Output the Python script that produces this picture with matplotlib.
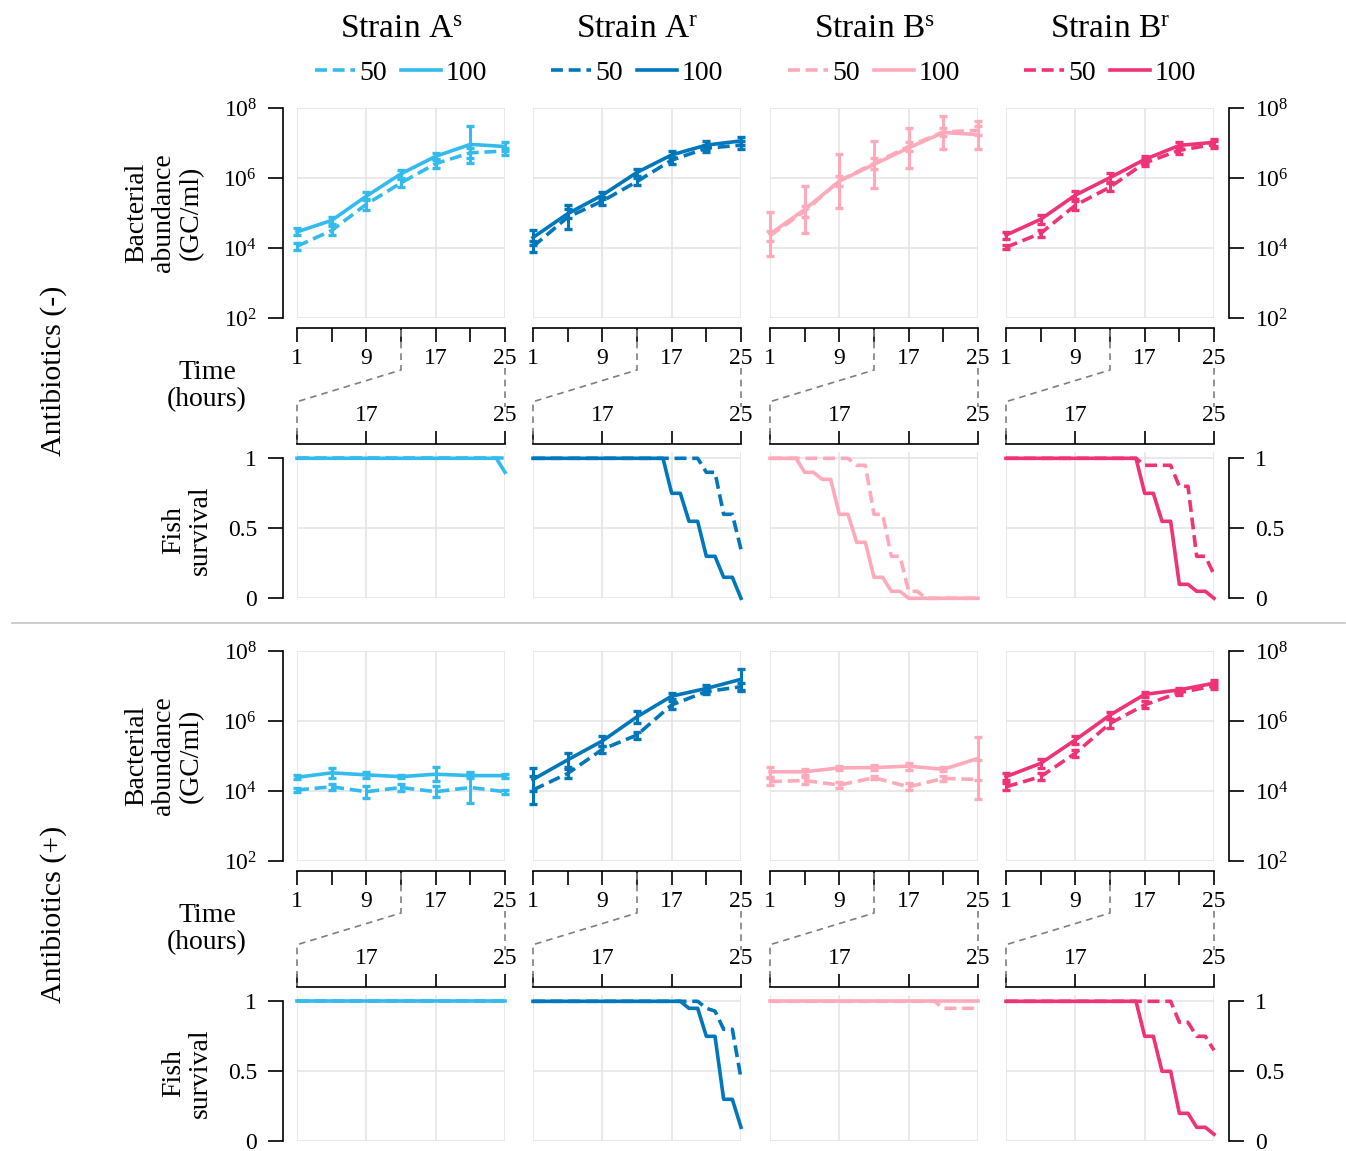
import numpy as np
import matplotlib
matplotlib.use("Agg")
import matplotlib.pyplot as plt
from matplotlib.ticker import FixedLocator, FixedFormatter, LogFormatterMathtext, NullLocator
from matplotlib.lines import Line2D

plt.rcParams.update({
    "font.family": "Liberation Serif",
    "mathtext.fontset": "custom",
    "mathtext.rm": "Liberation Serif",
    "mathtext.it": "Liberation Serif:italic",
    "mathtext.bf": "Liberation Serif:bold",
})

# ---------------- data ----------------
strains = ["A$^{\\mathrm{s}}$", "A$^{\\mathrm{r}}$", "B$^{\\mathrm{s}}$", "B$^{\\mathrm{r}}$"]
strain_colors = ["#33BBEE", "#0077BB", "#FFAABB", "#EE3377"]
doses = ["50", "100"]
rows = ["Antibiotics (-)", "Antibiotics (+)"]

hours = [1, 5, 9, 13, 17, 21, 25]
surv_hours = np.arange(13, 25.01, 0.5)

# log10 bacterial abundance (GC/ml), antibiotics (-)
As_neg_50 = [4.05, 4.50, 5.25, 5.86, 6.41, 6.72, 6.77]
As_neg_100 = [4.46, 4.79, 5.48, 6.12, 6.62, 6.96, 6.90]
Ar_neg_50 = [4.04, 4.88, 5.34, 5.90, 6.51, 6.85, 6.94]
Ar_neg_100 = [4.30, 4.98, 5.51, 6.16, 6.66, 6.94, 7.06]
Bs_neg_50 = [4.35, 5.05, 5.92, 6.42, 6.90, 7.32, 7.36]
Bs_neg_100 = [4.40, 5.10, 5.91, 6.39, 6.86, 7.30, 7.24]
Br_neg_50 = [4.02, 4.42, 5.22, 5.74, 6.43, 6.79, 6.96]
Br_neg_100 = [4.37, 4.82, 5.51, 6.01, 6.53, 6.93, 7.02]
# log10 bacterial abundance (GC/ml), antibiotics (+)
As_pos_50 = [4.03, 4.12, 3.98, 4.10, 3.98, 4.10, 3.98]
As_pos_100 = [4.39, 4.52, 4.46, 4.41, 4.48, 4.44, 4.44]
Ar_pos_50 = [4.03, 4.50, 5.19, 5.60, 6.46, 6.84, 6.98]
Ar_pos_100 = [4.33, 4.89, 5.43, 6.12, 6.71, 6.93, 7.19]
Bs_pos_50 = [4.27, 4.30, 4.17, 4.38, 4.12, 4.36, 4.33]
Bs_pos_100 = [4.55, 4.55, 4.66, 4.67, 4.71, 4.62, 4.93]
Br_pos_50 = [4.12, 4.41, 5.08, 5.93, 6.46, 6.81, 7.00]
Br_pos_100 = [4.41, 4.79, 5.46, 6.17, 6.76, 6.89, 7.08]

# error half-widths (log10 units)
As_neg_50_err = [0.10, 0.12, 0.15, 0.12, 0.12, 0.15, 0.10]
As_neg_100_err = [0.10, 0.10, 0.12, 0.12, 0.10, 0.54, 0.12]
Ar_neg_50_err = [0.15, 0.35, 0.12, 0.10, 0.10, 0.10, 0.12]
Ar_neg_100_err = [0.22, 0.12, 0.10, 0.10, 0.10, 0.12, 0.12]
Bs_neg_50_err = [0.15, 0.15, 0.15, 0.15, 0.12, 0.12, 0.12]
Bs_neg_100_err = [0.62, 0.68, 0.78, 0.68, 0.58, 0.48, 0.40]
Br_neg_50_err = [0.06, 0.10, 0.12, 0.12, 0.10, 0.10, 0.10]
Br_neg_100_err = [0.10, 0.12, 0.12, 0.12, 0.10, 0.10, 0.10]
As_pos_50_err = [0.06, 0.08, 0.17, 0.10, 0.15, 0.45, 0.06]
As_pos_100_err = [0.06, 0.15, 0.08, 0.05, 0.20, 0.08, 0.06]
Ar_pos_50_err = [0.40, 0.12, 0.10, 0.10, 0.12, 0.08, 0.12]
Ar_pos_100_err = [0.34, 0.20, 0.15, 0.18, 0.08, 0.10, 0.30]
Bs_pos_50_err = [0.10, 0.10, 0.08, 0.05, 0.10, 0.08, 0.57]
Bs_pos_100_err = [0.15, 0.08, 0.05, 0.08, 0.10, 0.06, 0.62]
Br_pos_50_err = [0.10, 0.10, 0.10, 0.12, 0.10, 0.08, 0.08]
Br_pos_100_err = [0.10, 0.12, 0.12, 0.10, 0.06, 0.06, 0.08]

# fish survival at hours 13, 13.5, ..., 25
As_neg_50_surv = [1, 1, 1, 1, 1, 1, 1, 1, 1, 1, 1, 1, 1, 1, 1, 1, 1, 1, 1, 1, 1, 1, 1, 1, 1]
As_neg_100_surv = [1, 1, 1, 1, 1, 1, 1, 1, 1, 1, 1, 1, 1, 1, 1, 1, 1, 1, 1, 1, 1, 1, 1, 1, 0.9]
Ar_neg_50_surv = [1, 1, 1, 1, 1, 1, 1, 1, 1, 1, 1, 1, 1, 1, 1, 1, 1, 1, 1, 1, 0.9, 0.9, 0.6, 0.6, 0.35]
Ar_neg_100_surv = [1, 1, 1, 1, 1, 1, 1, 1, 1, 1, 1, 1, 1, 1, 1, 1, 0.75, 0.75, 0.55, 0.55, 0.3, 0.3, 0.15, 0.15, 0]
Bs_neg_50_surv = [1, 1, 1, 1, 1, 1, 1, 1, 1, 1, 0.95, 0.95, 0.6, 0.6, 0.3, 0.3, 0.05, 0.05, 0, 0, 0, 0, 0, 0, 0]
Bs_neg_100_surv = [1, 1, 1, 1, 0.9, 0.9, 0.85, 0.85, 0.6, 0.6, 0.4, 0.4, 0.15, 0.15, 0.05, 0.05, 0, 0, 0, 0, 0, 0, 0, 0, 0]
Br_neg_50_surv = [1, 1, 1, 1, 1, 1, 1, 1, 1, 1, 1, 1, 1, 1, 1, 1, 0.95, 0.95, 0.95, 0.95, 0.8, 0.8, 0.3, 0.3, 0.17]
Br_neg_100_surv = [1, 1, 1, 1, 1, 1, 1, 1, 1, 1, 1, 1, 1, 1, 1, 1, 0.75, 0.75, 0.55, 0.55, 0.1, 0.1, 0.05, 0.05, 0]
As_pos_50_surv = [1, 1, 1, 1, 1, 1, 1, 1, 1, 1, 1, 1, 1, 1, 1, 1, 1, 1, 1, 1, 1, 1, 1, 1, 1]
As_pos_100_surv = [1, 1, 1, 1, 1, 1, 1, 1, 1, 1, 1, 1, 1, 1, 1, 1, 1, 1, 1, 1, 1, 1, 1, 1, 1]
Ar_pos_50_surv = [1, 1, 1, 1, 1, 1, 1, 1, 1, 1, 1, 1, 1, 1, 1, 1, 1, 1, 1, 1, 0.95, 0.93, 0.8, 0.8, 0.45]
Ar_pos_100_surv = [1, 1, 1, 1, 1, 1, 1, 1, 1, 1, 1, 1, 1, 1, 1, 1, 1, 1, 0.95, 0.95, 0.75, 0.75, 0.3, 0.3, 0.1]
Bs_pos_50_surv = [1, 1, 1, 1, 1, 1, 1, 1, 1, 1, 1, 1, 1, 1, 1, 1, 1, 1, 1, 1, 0.95, 0.95, 0.95, 0.95, 0.95]
Bs_pos_100_surv = [1, 1, 1, 1, 1, 1, 1, 1, 1, 1, 1, 1, 1, 1, 1, 1, 1, 1, 1, 1, 1, 1, 1, 1, 1]
Br_pos_50_surv = [1, 1, 1, 1, 1, 1, 1, 1, 1, 1, 1, 1, 1, 1, 1, 1, 1, 1, 1, 1, 0.85, 0.85, 0.75, 0.75, 0.65]
Br_pos_100_surv = [1, 1, 1, 1, 1, 1, 1, 1, 1, 1, 1, 1, 1, 1, 1, 1, 0.75, 0.75, 0.5, 0.5, 0.2, 0.2, 0.1, 0.1, 0.05]

abund = [
    [(As_neg_50, As_neg_100), (Ar_neg_50, Ar_neg_100), (Bs_neg_50, Bs_neg_100), (Br_neg_50, Br_neg_100)],
    [(As_pos_50, As_pos_100), (Ar_pos_50, Ar_pos_100), (Bs_pos_50, Bs_pos_100), (Br_pos_50, Br_pos_100)],
]
abund_err = [
    [(As_neg_50_err, As_neg_100_err), (Ar_neg_50_err, Ar_neg_100_err), (Bs_neg_50_err, Bs_neg_100_err), (Br_neg_50_err, Br_neg_100_err)],
    [(As_pos_50_err, As_pos_100_err), (Ar_pos_50_err, Ar_pos_100_err), (Bs_pos_50_err, Bs_pos_100_err), (Br_pos_50_err, Br_pos_100_err)],
]
surv = [
    [(As_neg_50_surv, As_neg_100_surv), (Ar_neg_50_surv, Ar_neg_100_surv), (Bs_neg_50_surv, Bs_neg_100_surv), (Br_neg_50_surv, Br_neg_100_surv)],
    [(As_pos_50_surv, As_pos_100_surv), (Ar_pos_50_surv, Ar_pos_100_surv), (Bs_pos_50_surv, Bs_pos_100_surv), (Br_pos_50_surv, Br_pos_100_surv)],
]

# ---------------- layout ----------------
W, H = 1346, 1151
fig = plt.figure(figsize=(W / 100, H / 100), dpi=100)

def rect(l, t, w, h):
    return [l / W, 1 - (t + h) / H, w / W, h / H]

def fp(x, y):
    return x / W, 1 - y / H

col_left = [297, 533, 770, 1006]
PW = 208
row_off = [0, 543]
AB_TOP, AB_H = 108, 210
SV_YMAX = 1.045
SV_TOP, SV_H = 598.3 - SV_YMAX * 140, SV_YMAX * 140
GRID = "#e5e5e5"
SP_LW = 1.2
LW = 2.6
TICK_FS = 17
styles = ["--", "-"]
DASH = (0, (3.3, 1.6))

def ls_of(d):
    return DASH if d == 0 else "-"

for r in range(2):
    off = row_off[r]
    for c in range(4):
        col = strain_colors[c]
        # ---- abundance panel ----
        ax = fig.add_axes(rect(col_left[c], AB_TOP + off, PW, AB_H))
        ax.set_yscale("log")
        ax.set_xlim(1, 25)
        ax.set_ylim(1e2, 1e8)
        ax.set_axisbelow(True)
        for d in range(2):
            m = np.array(abund[r][c][d])
            e = np.array(abund_err[r][c][d])
            y = 10 ** m
            yerr = [y - 10 ** (m - e), 10 ** (m + e) - y]
            cont = ax.errorbar(hours, y, yerr=yerr, color=col, ls=ls_of(d), lw=LW,
                               elinewidth=2.2, capsize=2.6, capthick=2.4, zorder=3 + d)
            for art in cont.get_children():
                art.set_clip_on(False)
        ax.xaxis.set_major_locator(FixedLocator([1, 9, 17, 25]))
        ax.xaxis.set_minor_locator(FixedLocator([5, 13, 21]))
        ax.yaxis.set_major_locator(FixedLocator([1e2, 1e4, 1e6, 1e8]))
        ax.yaxis.set_major_formatter(LogFormatterMathtext())
        ax.yaxis.set_minor_locator(NullLocator())
        ax.grid(True, which="major", color=GRID, lw=1.2)
        ax.spines["top"].set_visible(False)
        ax.spines["bottom"].set_position(("outward", 7.2))
        ax.spines["bottom"].set_bounds(1, 25)
        ax.spines["bottom"].set_linewidth(SP_LW)
        ax.tick_params(axis="x", which="both", direction="out", length=10, width=SP_LW,
                       labelsize=TICK_FS, pad=4.5)
        ax.spines["left"].set_visible(c == 0)
        ax.spines["right"].set_visible(c == 3)
        if c == 0:
            ax.spines["left"].set_position(("outward", 10.3))
            ax.spines["left"].set_linewidth(SP_LW)
            ax.tick_params(axis="y", which="both", direction="out", length=10.5, width=SP_LW,
                           labelsize=TICK_FS, pad=8, left=True, right=False)
        elif c == 3:
            ax.yaxis.tick_right()
            ax.spines["right"].set_position(("outward", 10.8))
            ax.spines["right"].set_linewidth(SP_LW)
            ax.tick_params(axis="y", which="both", direction="out", length=10.5, width=SP_LW,
                           labelsize=TICK_FS, pad=8, left=False, right=True)
        else:
            ax.tick_params(axis="y", which="both", left=False, right=False,
                           labelleft=False, labelright=False)

        # ---- survival panel ----
        sx = fig.add_axes(rect(col_left[c], SV_TOP + off, PW, SV_H))
        sx.set_xlim(13, 25)
        sx.set_ylim(0, SV_YMAX)
        sx.set_axisbelow(True)
        for d in range(2):
            sx.plot(surv_hours, surv[r][c][d], color=col, ls=ls_of(d), lw=LW,
                    clip_on=False, zorder=3 + d)
        sx.xaxis.tick_top()
        sx.xaxis.set_major_locator(FixedLocator([17, 25]))
        sx.xaxis.set_minor_locator(FixedLocator([13, 21]))
        sx.yaxis.set_major_locator(FixedLocator([0, 0.5, 1]))
        sx.yaxis.set_major_formatter(FixedFormatter(["0", "0.5", "1"]))
        sx.grid(True, axis="x", which="both", color=GRID, lw=1.2)
        sx.grid(True, axis="y", which="major", color=GRID, lw=1.2)
        sx.spines["bottom"].set_visible(False)
        sx.spines["top"].set_position(("outward", 5.8))
        sx.spines["top"].set_bounds(13, 25)
        sx.spines["top"].set_linewidth(SP_LW)
        sx.tick_params(axis="x", which="both", direction="out", length=9.5, width=SP_LW,
                       labelsize=TICK_FS, pad=3.5, top=True, bottom=False, labeltop=True, labelbottom=False)
        sx.spines["left"].set_visible(c == 0)
        sx.spines["right"].set_visible(c == 3)
        if c == 0:
            sx.spines["left"].set_position(("outward", 10.3))
            sx.spines["left"].set_bounds(0, 1)
            sx.spines["left"].set_linewidth(SP_LW)
            sx.tick_params(axis="y", direction="out", length=10.5, width=SP_LW,
                           labelsize=TICK_FS, pad=8, left=True, right=False)
        elif c == 3:
            sx.yaxis.tick_right()
            sx.spines["right"].set_position(("outward", 10.8))
            sx.spines["right"].set_bounds(0, 1)
            sx.spines["right"].set_linewidth(SP_LW)
            sx.tick_params(axis="y", direction="out", length=10.5, width=SP_LW,
                           labelsize=TICK_FS, pad=8, left=False, right=True)
        else:
            sx.tick_params(axis="y", left=False, right=False, labelleft=False, labelright=False)

        # ---- zoom connector (dashed) ----
        xl = col_left[c]
        x13 = xl + PW * 12 / 24
        xr = xl + PW
        pts = [(x13, 330 + off), (x13, 370 + off), (xl, 401.7 + off), (xl, 443 + off)]
        xs, ys = zip(*[fp(px, py) for px, py in pts])
        fig.add_artist(Line2D(xs, ys, transform=fig.transFigure, color="#7f7f7f",
                              lw=1.2, ls=(0, (4, 3))))
        xs, ys = zip(*[fp(px, py) for px, py in [(xr, 368 + off), (xr, 407 + off)]])
        fig.add_artist(Line2D(xs, ys, transform=fig.transFigure, color="#7f7f7f",
                              lw=1.2, ls=(0, (4, 3))))

        # ---- header & legend ----
        if r == 0:
            cx = xl + PW / 2
            fig.text(*fp(cx, 37.5), "Strain " + strains[c], ha="center", va="baseline", fontsize=24)
            handles = [Line2D([], [], color=col, ls=ls_of(d), lw=LW) for d in range(2)]
            fig.legend(handles, doses, loc="center", bbox_to_anchor=fp(cx, 73),
                       bbox_transform=fig.transFigure, ncol=2, frameon=False, fontsize=20,
                       handlelength=1.45, handletextpad=0.15, columnspacing=0.5,
                       borderaxespad=0, borderpad=0)

    # ---- row labels ----
    fig.text(*fp(164, 213 + off), "Bacterial\nabundance\n(GC/ml)", rotation=90,
             ha="center", va="center", fontsize=20, linespacing=1.1, multialignment="center")
    fig.text(*fp(207, 386 + off), "Time\n(hours)", ha="center", va="center",
             fontsize=20, linespacing=1.1, multialignment="center")
    fig.text(*fp(187, 530 + off), "Fish\nsurvival", rotation=90, ha="center", va="center",
             fontsize=20, linespacing=1.1, multialignment="center")
    fig.text(*fp(54, 371 + off), rows[r], rotation=90, ha="center", va="center", fontsize=21.5)

fig.add_artist(Line2D([12 / W, 1345 / W], [1 - 623 / H, 1 - 623 / H], transform=fig.transFigure,
                      color="#c8c8c8", lw=1.3))

fig.savefig("out.png", dpi=100)
